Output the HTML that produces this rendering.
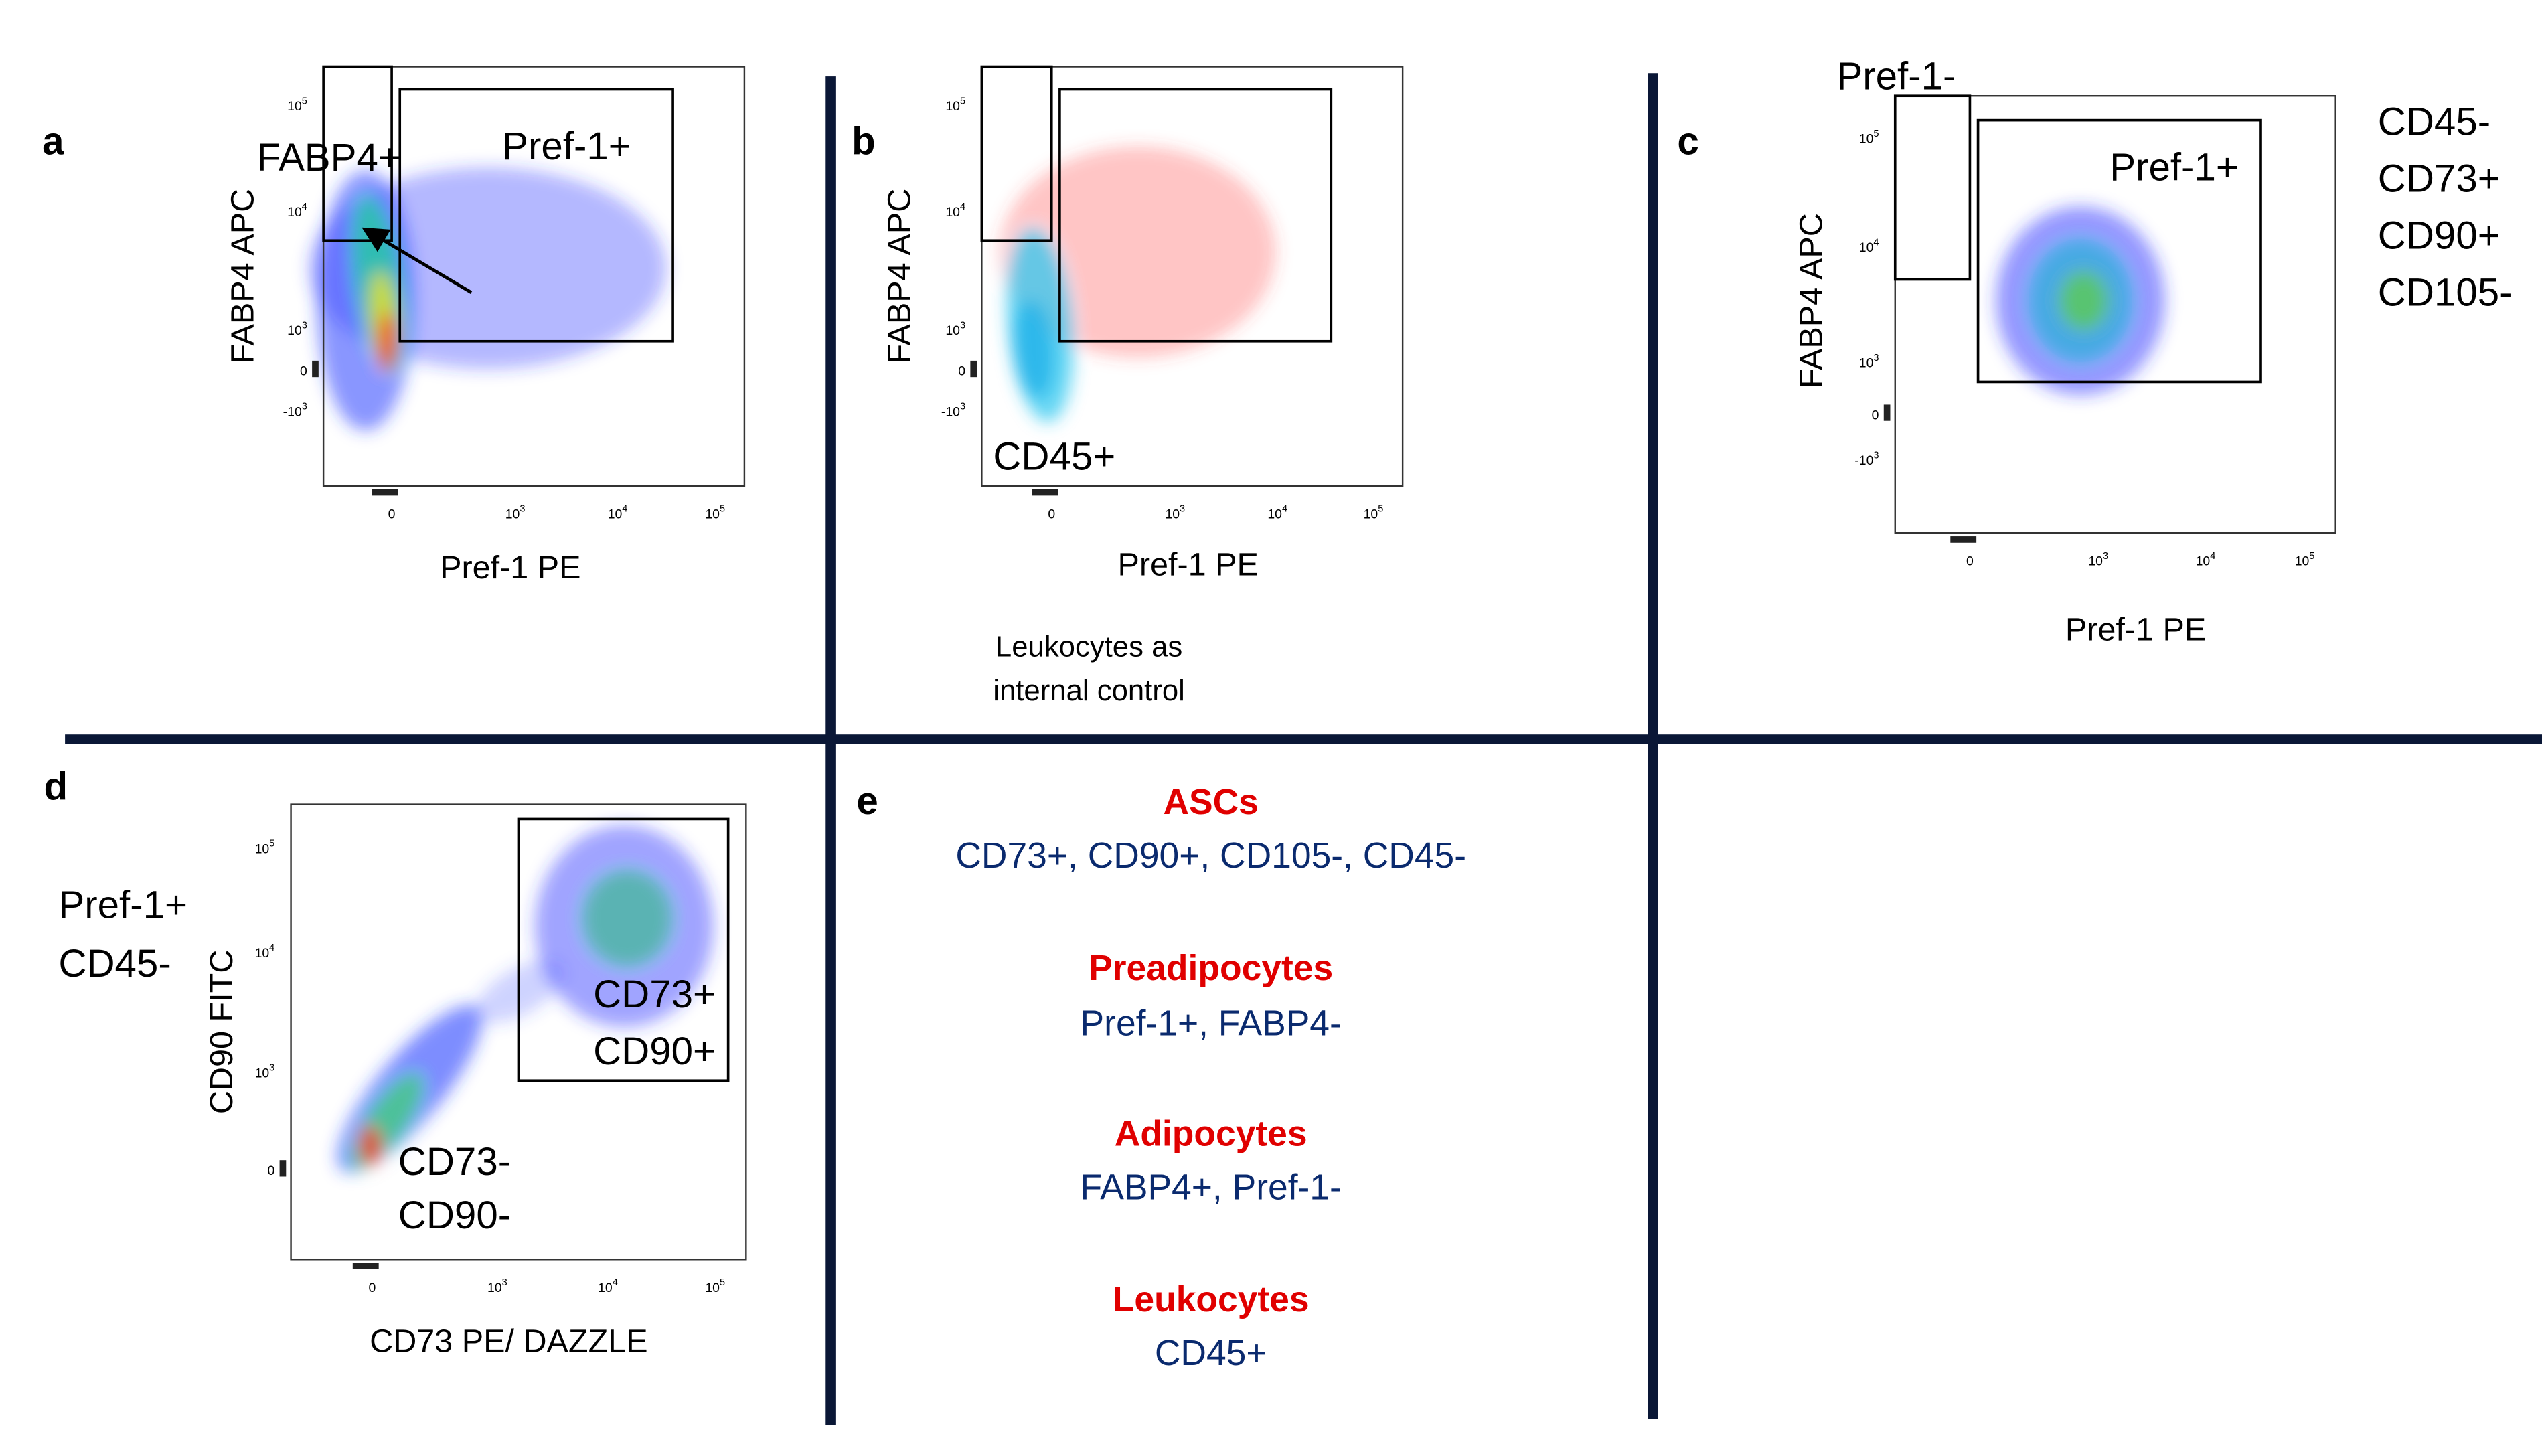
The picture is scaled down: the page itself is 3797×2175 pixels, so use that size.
<!DOCTYPE html>
<html><head><meta charset="utf-8">
<style>
html,body{margin:0;padding:0;background:#fff;}
svg{display:block;font-family:"Liberation Sans",sans-serif;}
</style></head>
<body>
<svg id="fig" width="3797" height="2175" viewBox="0 0 1564 896" preserveAspectRatio="none">
<defs>
<filter id="blur" x="-50%" y="-50%" width="200%" height="200%"><feGaussianBlur stdDeviation="5"/></filter>
<marker id="arr" markerWidth="8" markerHeight="8" refX="6" refY="4" orient="auto"><path d="M0,0 L8,4 L0,8 Z" fill="#000"/></marker>
</defs>
<rect width="1564" height="896" fill="#fff"/>
<g id="dividers" fill="#0a1736">
<rect x="40" y="452" width="1524" height="6"/>
<rect x="508" y="47" width="6" height="830"/>
<rect x="1014" y="45" width="6" height="828"/>
</g>
<g id="density" filter="url(#blur)"></g>
<g id="axes"></g>
<g font-size="24" fill="#000">
<text x="26" y="95" font-weight="bold">a</text>
<text x="524" y="95" font-weight="bold">b</text>
<text x="1032" y="95" font-weight="bold">c</text>
<text x="27" y="492" font-weight="bold">d</text>
<text x="527" y="501" font-weight="bold">e</text>
<text x="158" y="105">FABP4+</text>
<text x="309" y="98">Pref-1+</text>
<text x="611" y="289">CD45+</text>
<text x="1130" y="55">Pref-1-</text>
<text x="1298" y="111">Pref-1+</text>
<text x="1463" y="83">CD45-</text>
<text x="1463" y="118">CD73+</text>
<text x="1463" y="153">CD90+</text>
<text x="1463" y="188">CD105-</text>
<text x="36" y="565">Pref-1+</text>
<text x="36" y="601">CD45-</text>
<text x="365" y="620">CD73+</text>
<text x="365" y="655">CD90+</text>
<text x="245" y="723">CD73-</text>
<text x="245" y="756">CD90-</text>
</g>
<g font-size="20" text-anchor="middle" fill="#000">
<text x="314" y="356">Pref-1 PE</text>
<text transform="translate(156,170) rotate(-90)">FABP4 APC</text>
<text x="731" y="354">Pref-1 PE</text>
<text transform="translate(560,170) rotate(-90)">FABP4 APC</text>
<text x="1314" y="394">Pref-1 PE</text>
<text transform="translate(1121,185) rotate(-90)">FABP4 APC</text>
<text x="313" y="832">CD73 PE/ DAZZLE</text>
<text transform="translate(143,635) rotate(-90)">CD90 FITC</text>
</g>
<g font-size="18" text-anchor="middle" fill="#000">
<text x="670" y="404">Leukocytes as</text>
<text x="670" y="431">internal control</text>
</g>
<g font-size="22" text-anchor="middle">
<text x="745" y="501" fill="#e00000" font-weight="bold">ASCs</text>
<text x="745" y="534" fill="#0a2a6e">CD73+, CD90+, CD105-, CD45-</text>
<text x="745" y="603" fill="#e00000" font-weight="bold">Preadipocytes</text>
<text x="745" y="637" fill="#0a2a6e">Pref-1+, FABP4-</text>
<text x="745" y="705" fill="#e00000" font-weight="bold">Adipocytes</text>
<text x="745" y="738" fill="#0a2a6e">FABP4+, Pref-1-</text>
<text x="745" y="807" fill="#e00000" font-weight="bold">Leukocytes</text>
<text x="745" y="840" fill="#0a2a6e">CD45+</text>
</g>
<line x1="290" y1="180" x2="226" y2="142" stroke="#000" stroke-width="2" marker-end="url(#arr)"/>
</svg>
<script>
const panels = [
 {id:'a', box:[199,41,458,299], xt:[241,317,380,440], yt:[65,130,203,228,253]},
 {id:'b', box:[604,41,863,299], xt:[647,723,786,845], yt:[65,130,203,228,253]},
 {id:'c', box:[1166,59,1437,328], xt:[1212,1291,1357,1418], yt:[85,152,223,255,283]},
 {id:'d', box:[179,495,459,775], xt:[229,306,374,440], yt:[522,586,660,720]}
];
const xTickLabels = [['0',''],['10','3'],['10','4'],['10','5']];
const yTickLabels5 = [['10','5'],['10','4'],['10','3'],['0',''],['-10','3']];
const yTickLabels4 = [['10','5'],['10','4'],['10','3'],['0','']];
const gates = [
 ['gate-pref1-pos-a',246,55,414,210],['gate-fabp4-pos-a',199,41,241,148],
 ['gate-pref1-pos-b',652,55,819,210],['gate-fabp4-pos-b',604,41,647,148],
 ['gate-pref1-neg-c',1166,59,1212,172],['gate-pref1-pos-c',1217,74,1391,235],
 ['gate-cd73-cd90-pos-d',319,504,448,665]
];
const clusterCx = [300,225,233,236,238, 700,640,636, 1280,1280,1282, 252,238,228,384,386, 320];
const clusterCy = [165,185,175,195,210, 155,200,215, 185,185,185, 670,690,705,570,565, 610];
const clusterRx = [110,30,14,8,5, 85,20,12, 52,32,15, 20,12,6,55,28, 30];
const clusterRy = [62,80,55,28,18, 65,60,30, 58,38,18, 65,35,12,62,30, 14];
const clusterRot = [0,0,-8,-5,0, 0,-5,-5, 0,0,0, 40,35,0,0,0, -30];
const clusterCol = ['#2a30ff','#2a40ff','#20d0a0','#e8e020','#ff2000', '#ff4040','#30c8f0','#20b0e8', '#2a30ff','#10b8d0','#60d040', '#2a40ff','#40d080','#ff2010','#2a30ff','#30c080', '#4050ff'];
const clusterOp = [0.35,0.55,0.8,0.85,0.85, 0.3,0.75,0.8, 0.5,0.6,0.7, 0.6,0.8,0.85,0.45,0.6, 0.25];

const NS='http://www.w3.org/2000/svg';
const dens=document.getElementById('density');
clusterCx.forEach((cx,i)=>{
 const e=document.createElementNS(NS,'ellipse');
 e.setAttribute('cx',cx);e.setAttribute('cy',clusterCy[i]);
 e.setAttribute('rx',clusterRx[i]);e.setAttribute('ry',clusterRy[i]);
 e.setAttribute('transform',`rotate(${clusterRot[i]} ${cx} ${clusterCy[i]})`);
 e.setAttribute('fill',clusterCol[i]);e.setAttribute('fill-opacity',clusterOp[i]);
 
 
 dens.appendChild(e);
});
const ax=document.getElementById('axes');
function txt(x,y,base,sup,anchor){
 const t=document.createElementNS(NS,'text');
 t.setAttribute('x',x);t.setAttribute('y',y);t.setAttribute('font-size','8');t.setAttribute('text-anchor',anchor);
 t.textContent=base;
 if(sup){const s=document.createElementNS(NS,'tspan');s.setAttribute('dy','-4');s.setAttribute('font-size','6');s.textContent=sup;t.appendChild(s);}
 
 
 ax.appendChild(t);
}
panels.forEach(p=>{
 const [x1,y1,x2,y2]=p.box;
 const r=document.createElementNS(NS,'rect');
 r.setAttribute('x',x1);r.setAttribute('y',y1);r.setAttribute('width',x2-x1);r.setAttribute('height',y2-y1);
 r.setAttribute('fill','none');r.setAttribute('stroke','#333');r.setAttribute('stroke-width','1');
 
 
 ax.appendChild(r);
 p.xt.forEach((x,i)=>txt(x,y2+20,xTickLabels[i][0],xTickLabels[i][1],'middle'));
 const yl = p.yt.length===5?yTickLabels5:yTickLabels4;
 p.yt.forEach((y,i)=>txt(x1-10,y+3,yl[i][0],yl[i][1],'end'));
 const m=document.createElementNS(NS,'rect');
 m.setAttribute('x',x1-7);m.setAttribute('y',p.yt[3]-6);m.setAttribute('width',4);m.setAttribute('height',10);m.setAttribute('fill','#222');
 
 
 ax.appendChild(m);
 const m2=document.createElementNS(NS,'rect');
 m2.setAttribute('x',p.xt[0]-12);m2.setAttribute('y',y2+2);m2.setAttribute('width',16);m2.setAttribute('height',4);m2.setAttribute('fill','#222');
 
 
 ax.appendChild(m2);
});
gates.forEach(g=>{
 const r=document.createElementNS(NS,'rect');
 r.setAttribute('x',g[1]);r.setAttribute('y',g[2]);r.setAttribute('width',g[3]-g[1]);r.setAttribute('height',g[4]-g[2]);
 r.setAttribute('fill','none');r.setAttribute('stroke','#000');r.setAttribute('stroke-width','1.5');
 
 
 ax.appendChild(r);
});
</script>
</body></html>
